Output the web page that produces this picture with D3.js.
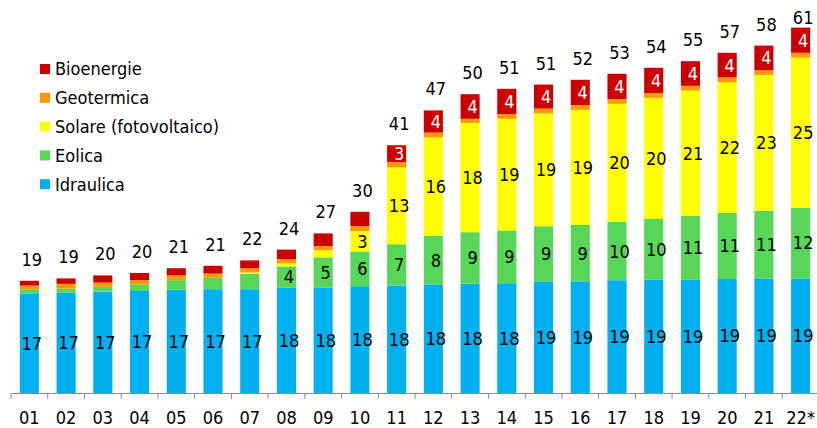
<!DOCTYPE html>
<html>
<head>
<meta charset="utf-8">
<script src="https://cdn.jsdelivr.net/npm/d3@7"></script>
<style>
body { margin: 0; background: #fff; }
text { font-family: "DejaVu Sans Condensed", "DejaVu Sans", sans-serif; }
</style>
</head>
<body>
<script>
var width = 817
var height = 428

var years = ["01","02","03","04","05","06","07","08","09","10","11","12","13","14","15","16","17","18","19","20","21","22*"];

var idraulica = [16.6,16.7,16.9,17.0,17.2,17.3,17.3,17.6,17.6,17.8,17.9,18.1,18.2,18.3,18.6,18.6,18.8,18.9,18.9,19.0,19.1,19.1];
var eolica = [0.7,0.7,0.8,1.1,1.6,1.9,2.6,3.5,5.0,5.8,6.9,8.1,8.6,8.8,9.2,9.4,9.7,10.1,10.6,11.0,11.3,11.8];
var solare = [0,0,0,0,0,0,0.2,0.5,1.2,3.4,12.8,16.4,18.2,18.6,18.8,19.2,19.7,20.2,20.9,21.8,22.6,25.0];
var geotermica = [0.6,0.8,0.7,0.7,0.8,0.7,0.7,0.7,0.7,0.8,0.9,0.8,0.7,0.8,0.8,0.8,0.8,0.8,0.8,0.8,0.8,0.8];
var bioenergie = [0.8,0.9,1.2,1.2,1.2,1.3,1.3,1.6,2.1,2.4,2.8,3.7,4.1,4.2,4.0,4.2,4.2,4.2,4.1,4.1,4.1,4.2];

var series = [
	{name: "Idraulica", values: idraulica, color: "#00b0f0", text: "#000"},
	{name: "Eolica", values: eolica, color: "#57d657", text: "#000"},
	{name: "Solare (fotovoltaico)", values: solare, color: "#ffff00", text: "#000"},
	{name: "Geotermica", values: geotermica, color: "#ff9900", text: "#000"},
	{name: "Bioenergie", values: bioenergie, color: "#cc0000", text: "#fff"}
];

var table = years.map((y, i) => {
	var row = {year: y};
	series.forEach((s) => { row[s.name] = s.values[i]; });
	return row;
});

var stack = d3.stack().keys(series.map((s) => s.name))(table);

var svg = d3.select("body")
	.append("svg")
		.attr("width", width)
		.attr("height", height);

var baseY = 393;

var x = d3.scaleBand()
	.domain(years)
	.range([11, 819])
	.paddingInner(0.48)
	.paddingOuter(0.24);

var xb = d3.scaleBand()
	.domain(years)
	.range([11, 819])
	.padding(0);

var y = d3.scaleLinear()
	.domain([0, 65.5])
	.range([baseY, 0]);

var layers = svg.selectAll("g.layer").data(stack)
	.enter()
	.append("g")
		.attr("class", "layer")
		.attr("fill", (d, i) => series[i].color);

layers.selectAll("rect").data((d) => d)
	.enter()
	.append("rect")
		.attr("x", (d) => x(d.data.year))
		.attr("y", (d) => y(d[1]))
		.attr("width", x.bandwidth())
		.attr("height", (d) => y(d[0]) - y(d[1]));

layers.each(function(layer, i) {
	d3.select(this).selectAll("text").data(layer.filter((d) => d[1] - d[0] >= 2.75))
		.enter()
		.append("text")
			.attr("x", (d) => x(d.data.year) + x.bandwidth() / 2 + 2.5)
			.attr("y", (d) => (y(d[0]) + y(d[1])) / 2)
			.attr("dy", "0.36em")
			.attr("text-anchor", "middle")
			.attr("font-size", "18px")
			.style("fill", series[i].text)
			.text((d) => Math.round(d[1] - d[0]));
});

var lastLayer = stack[stack.length - 1];
svg.append("g").selectAll("text").data(lastLayer)
	.enter()
	.append("text")
		.attr("x", (d) => x(d.data.year) + x.bandwidth() / 2 + 2.5)
		.attr("y", (d) => Math.max(24, y(d[1]) - 15))
		.attr("text-anchor", "middle")
		.attr("font-size", "18px")
		.style("fill", "#000")
		.text((d) => Math.round(d[1]));

var axis = svg.append("g")
	.attr("transform", "translate(0," + baseY + ")")
	.call(d3.axisBottom(xb).tickSize(0).tickPadding(18));

axis.select(".domain").attr("stroke", "#8c8c8c");
axis.selectAll("text")
	.attr("font-size", "18px")
	.attr("font-family", "DejaVu Sans Condensed, DejaVu Sans, sans-serif")
	.style("fill", "#000");

axis.selectAll("line.bound").data(years)
	.enter()
	.append("line")
		.attr("class", "bound")
		.attr("x1", (d) => xb(d))
		.attr("x2", (d) => xb(d))
		.attr("y1", 0)
		.attr("y2", 6)
		.attr("stroke", "#8c8c8c");

var legend = svg.append("g").selectAll("g").data(series.slice().reverse())
	.enter()
	.append("g")
		.attr("transform", (d, i) => "translate(40," + (69 + i * 28.8) + ")");

legend.append("rect")
	.attr("x", 0)
	.attr("y", -5)
	.attr("width", 10)
	.attr("height", 10)
	.attr("fill", (d) => d.color);

legend.append("text")
	.attr("x", 15)
	.attr("y", 0)
	.attr("dy", "0.36em")
	.attr("font-size", "18px")
	.style("fill", "#000")
	.text((d) => d.name);
</script>
</body>
</html>
